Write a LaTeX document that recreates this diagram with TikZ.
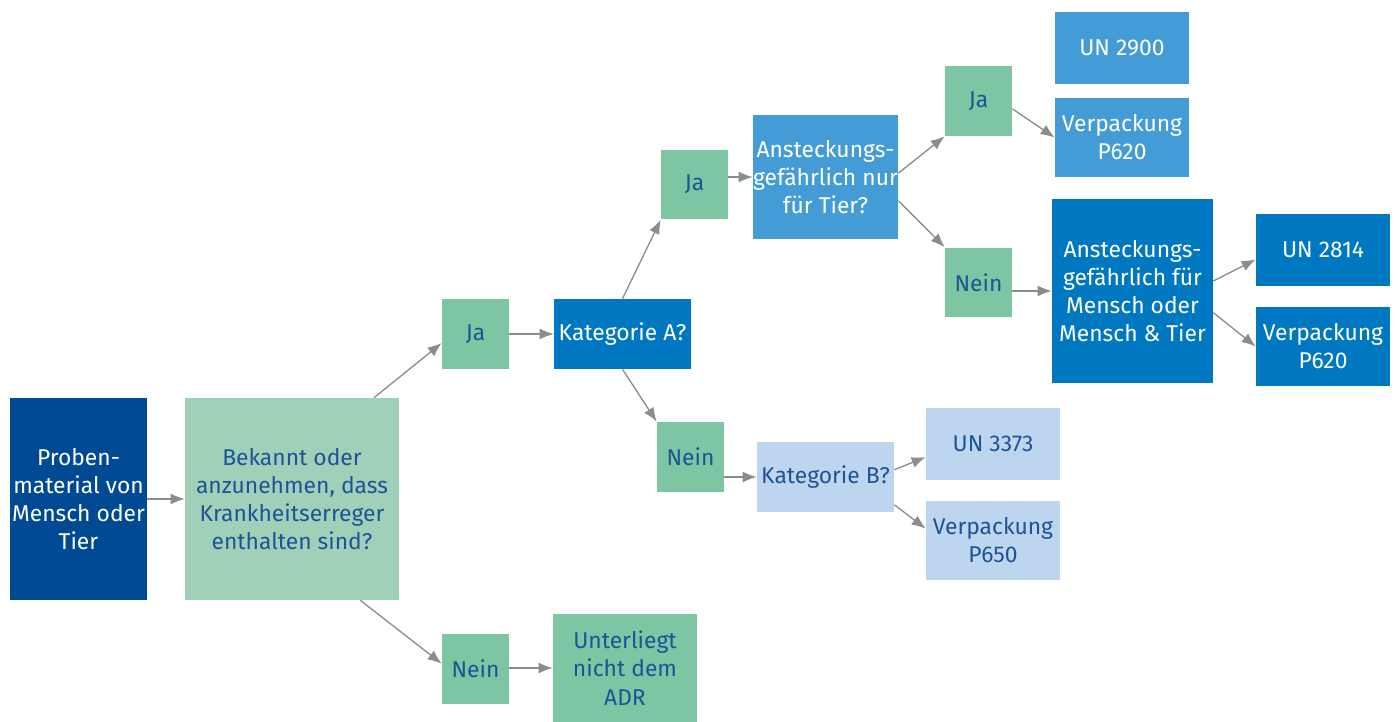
\documentclass[tikz,border=0pt]{standalone}
\usepackage{fontspec}
\setmainfont{Fira Sans}
\usetikzlibrary{arrows.meta}

\definecolor{navy}{RGB}{0,74,148}
\definecolor{paleteal}{RGB}{160,208,184}
\definecolor{teal}{RGB}{125,197,163}
\definecolor{strongblue}{RGB}{0,120,193}
\definecolor{midblue}{RGB}{68,156,214}
\definecolor{paleblue}{RGB}{189,213,239}
\definecolor{inkblue}{RGB}{30,84,150}
\definecolor{arrowgray}{RGB}{140,140,140}

\tikzset{
  box/.style={rectangle, inner sep=0pt, align=center,
    font=\fontsize{13}{16}\selectfont},
  answer/.style={box, fill=teal, text=inkblue,
    minimum width=1.34cm, minimum height=1.4cm},
  flow/.style={draw=arrowgray, line width=0.75pt,
    -{Latex[length=0.28cm,width=0.22cm]}}
}

\begin{document}
\begin{tikzpicture}[x=0.02cm,y=-0.02cm]
\useasboundingbox (0,0) rectangle (1399,722);

% start and first question
\node[box, fill=navy, text=white, minimum width=2.74cm, minimum height=4.04cm]
  (proben) at (78.5,499) {Proben-\\material von\\Mensch oder\\Tier};
\node[box, fill=paleteal, text=inkblue, minimum width=4.28cm, minimum height=4.04cm]
  (bekannt) at (292,499) {Bekannt oder\\anzunehmen, dass\\Krankheitserreger\\enthalten sind?};

\node[answer] (ja1) at (475.5,334) {Ja};
\node[answer] (nein1) at (475.5,669) {Nein};
\node[box, fill=teal, text=inkblue, minimum width=2.88cm, minimum height=2.16cm]
  (unterliegt) at (625,668) {Unterliegt\\nicht dem\\ADR};

% category A / B
\node[box, fill=strongblue, text=white, minimum width=2.74cm, minimum height=1.4cm]
  (kata) at (622.5,334) {Kategorie A?};
\node[answer] (ja2) at (694.5,184.5) {Ja};
\node[answer] (nein2) at (690.5,457) {Nein};
\node[box, fill=paleblue, text=inkblue, minimum width=2.74cm, minimum height=1.4cm]
  (katb) at (825.5,477) {Kategorie B?};
\node[box, fill=paleblue, text=inkblue, minimum width=2.68cm, minimum height=1.44cm]
  (un3373) at (993,444) {UN 3373};
\node[box, fill=paleblue, text=inkblue, minimum width=2.68cm, minimum height=1.58cm]
  (p650) at (993,540.5) {Verpackung\\P650};

% infectious for animals only?
\node[box, fill=midblue, text=white, minimum width=2.9cm, minimum height=2.48cm]
  (tier) at (825.5,177) {Ansteckungs-\\gefährlich nur\\für Tier?};
\node[answer] (ja3) at (978.5,101) {Ja};
\node[answer] (nein3) at (978.5,282.5) {Nein};
\node[box, fill=midblue, text=white, minimum width=2.68cm, minimum height=1.44cm]
  (un2900) at (1122,48) {UN 2900};
\node[box, fill=midblue, text=white, minimum width=2.68cm, minimum height=1.58cm]
  (verptier) at (1122,137.5) {Verpackung\\P620};

% infectious for humans
\node[box, fill=strongblue, text=white, minimum width=3.22cm, minimum height=3.68cm]
  (mensch) at (1132.5,291) {Ansteckungs-\\gefährlich für\\Mensch oder\\Mensch \& Tier};
\node[box, fill=strongblue, text=white, minimum width=2.68cm, minimum height=1.44cm]
  (un2814) at (1323,250) {UN 2814};
\node[box, fill=strongblue, text=white, minimum width=2.68cm, minimum height=1.58cm]
  (verpmensch) at (1323,346.5) {Verpackung\\P620};

% connectors
\draw[flow] (proben) -- (bekannt);
\draw[flow] (bekannt.51) -- (ja1.195);
\draw[flow] (bekannt.304) -- (nein1.171);
\draw[flow] (nein1.east |- unterliegt.west) -- (unterliegt.west);
\draw[flow] (ja1) -- (kata);
\draw[flow] (kata.north) -- (ja2.south west);
\draw[flow] (kata.south) -- (nein2.north west);
\draw[flow] (nein2.east |- katb.west) -- (katb.west);
\draw[flow] (katb.6) -- (un3373.191);
\draw[flow] (katb.338) -- (p650.170);
\draw[flow] (ja2.east |- tier.west) -- (tier.west);
\draw[flow] (tier.3) -- (ja3.south west);
\draw[flow] (tier.342) -- (nein3.north west);
\draw[flow] (ja3.347) -- (verptier.west);
\draw[flow] (nein3.east |- mensch.west) -- (mensch.west);
\draw[flow] (mensch.7) -- (un2814.188);
\draw[flow] (mensch.345) -- (verpmensch.west);
\end{tikzpicture}
\end{document}
